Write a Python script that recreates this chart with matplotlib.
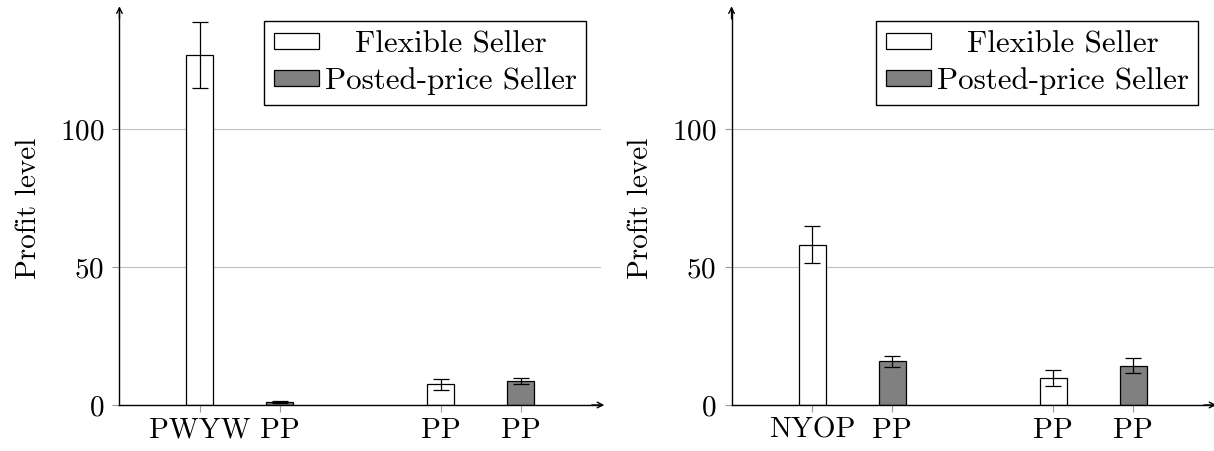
import matplotlib
matplotlib.use('Agg')
import matplotlib.pyplot as plt
import numpy as np

plt.rcParams['font.family'] = 'cmr10'
plt.rcParams['axes.formatter.use_mathtext'] = True
plt.rcParams['mathtext.fontset'] = 'cm'

# data
groups = [1, 2]
series_names = ['Flexible Seller', 'Posted-price Seller']

left_labels = ['PWYW', 'PP', 'PP', 'PP']
left_flexible = [127.1, 7.6]
left_flexible_err = [12.0, 2.0]
left_posted = [1.0, 8.7]
left_posted_err = [0.3, 1.2]

right_labels = ['NYOP', 'PP', 'PP', 'PP']
right_flexible = [58.2, 9.7]
right_flexible_err = [6.6, 2.9]
right_posted = [15.8, 14.2]
right_posted_err = [2.0, 2.7]

shift = 0.166
bar_w = 0.112
fs = 21
leg_fs = 22.3


def draw_panel(ax, labels, flex, flex_err, posted, posted_err):
    x = np.array(groups, dtype=float)
    ekw = dict(ecolor='black', elinewidth=0.9, capsize=6, capthick=0.9)
    ax.bar(x - shift, flex, bar_w, yerr=flex_err, color='white',
           edgecolor='black', linewidth=0.9, label=series_names[0],
           error_kw=ekw, zorder=3)
    ax.bar(x + shift, posted, bar_w, yerr=posted_err, color='#808080',
           edgecolor='black', linewidth=0.9, label=series_names[1],
           error_kw=ekw, zorder=3)
    ax.set_xlim(0.5, 2.5)
    ax.set_ylim(0, 143)
    ax.set_xticks(list(x - shift) + list(x + shift))
    ax.set_xticklabels([labels[0], labels[2], labels[1], labels[3]])
    ax.set_yticks([0, 50, 100])
    ax.tick_params(axis='both', direction='out', length=5, color='#999999',
                   labelsize=fs, pad=6)
    ax.tick_params(axis='x', pad=4)
    ax.grid(axis='y', color='#c0c0c0', linewidth=0.8, zorder=0)
    ax.set_axisbelow(True)
    for s in ['top', 'right']:
        ax.spines[s].set_visible(False)
    for s in ['left', 'bottom']:
        ax.spines[s].set_linewidth(1.0)
        ax.spines[s].set_zorder(4)
    ax.annotate('', xy=(1.006, 0), xytext=(0.98, 0), xycoords='axes fraction',
                arrowprops=dict(arrowstyle='->', lw=1.0, color='black',
                                shrinkA=0, shrinkB=0))
    ax.annotate('', xy=(0, 1.012), xytext=(0, 0.98), xycoords='axes fraction',
                arrowprops=dict(arrowstyle='->', lw=1.0, color='black',
                                shrinkA=0, shrinkB=0))
    ax.set_ylabel('Profit level', fontsize=fs, labelpad=13)
    leg = ax.legend(loc='upper right', bbox_to_anchor=(0.968, 0.975),
                    fontsize=leg_fs, frameon=True, fancybox=False,
                    edgecolor='black', framealpha=1, borderpad=0.3,
                    labelspacing=0.3, handlelength=1.45, handleheight=0.42,
                    handletextpad=0.2, borderaxespad=0)
    leg.get_frame().set_linewidth(1.0)
    return leg


fig = plt.figure(figsize=(12.14, 4.51), dpi=100)
ax1 = fig.add_axes([0.0984, 0.102, 0.397, 0.8736])
ax2 = fig.add_axes([0.6026, 0.102, 0.397, 0.8736])

legs = [draw_panel(ax1, left_labels, left_flexible, left_flexible_err,
                   left_posted, left_posted_err),
        draw_panel(ax2, right_labels, right_flexible, right_flexible_err,
                   right_posted, right_posted_err)]

# centre the legend entries like pgfplots does
fig.canvas.draw()
for leg in legs:
    texts = leg.get_texts()
    widths = [t.get_window_extent().width for t in texts]
    wmax = max(widths)
    for t, w in zip(texts, widths):
        t.set_x((wmax - w) / 2)

fig.savefig('out.png', dpi=100)
